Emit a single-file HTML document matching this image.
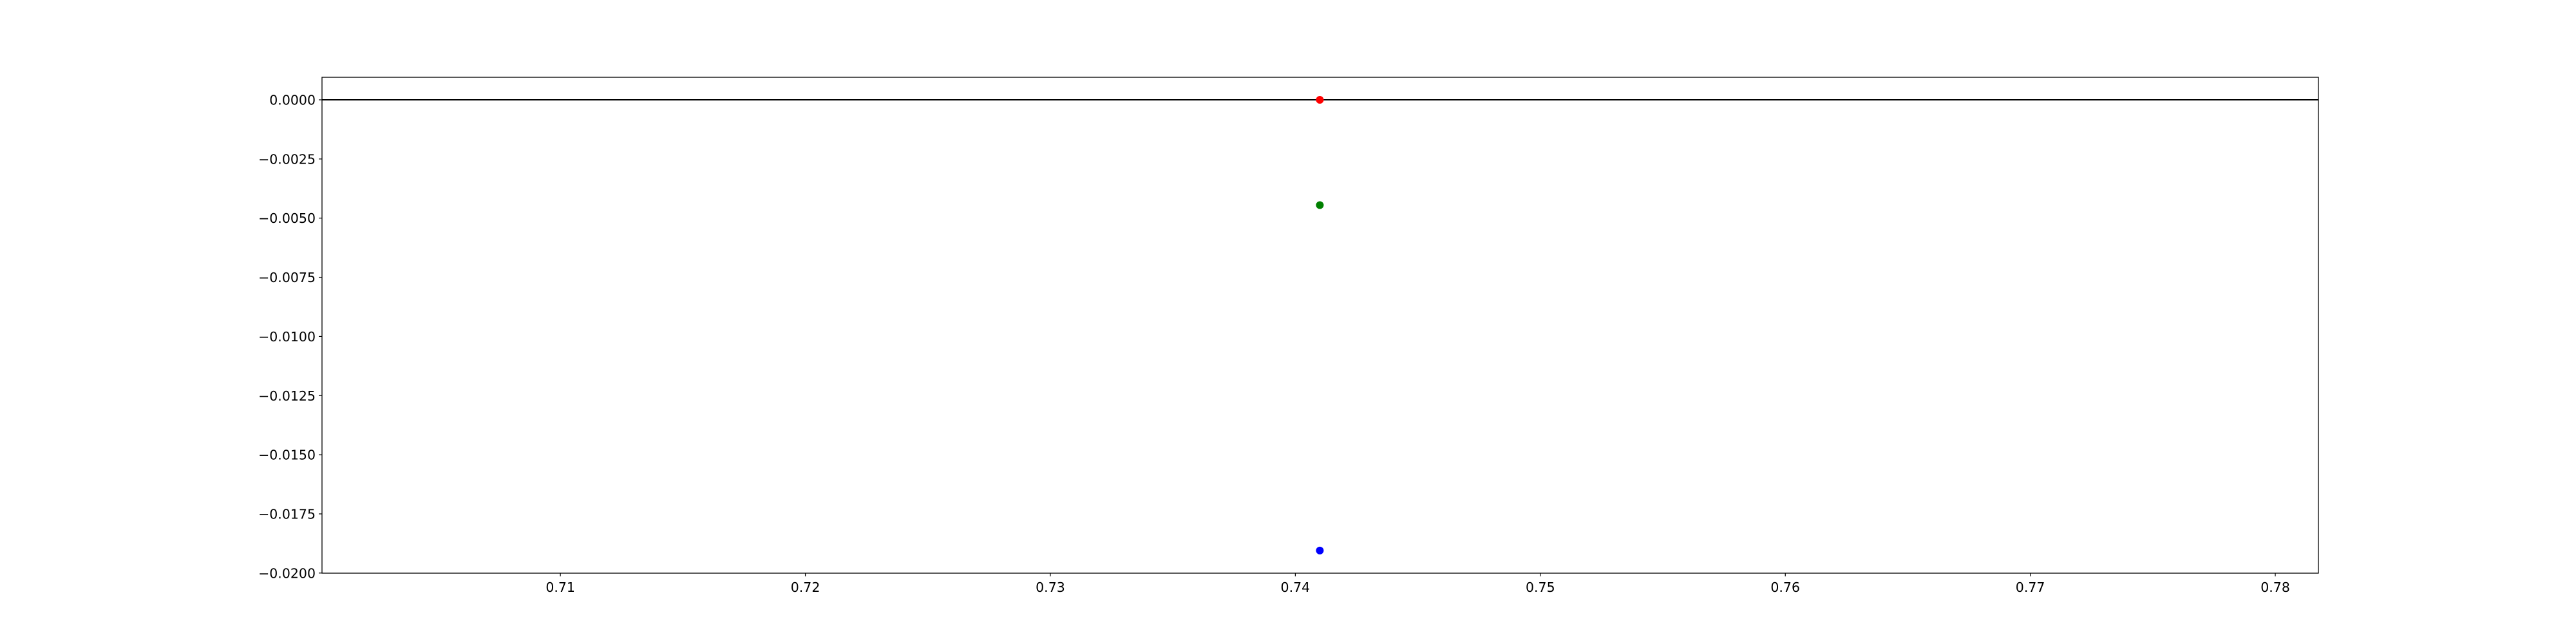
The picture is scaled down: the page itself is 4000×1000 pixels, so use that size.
<!DOCTYPE html>
<html><head><meta charset="utf-8"><style>
html,body{margin:0;padding:0;background:#fff;}
svg{display:block;font-family:"DejaVu Sans","Liberation Sans",sans-serif;}
</style></head><body>
<svg id="chart" width="4000" height="1000" xmlns="http://www.w3.org/2000/svg">
<rect width="4000" height="1000" fill="#fff"/>
</svg>
<script>
const xTicks = [0.71,0.72,0.73,0.74,0.75,0.76,0.77,0.78];
const yTicks = [0,-0.0025,-0.005,-0.0075,-0.01,-0.0125,-0.015,-0.0175,-0.02];
const yTickLabels = ["0.0000","−0.0025","−0.0050","−0.0075","−0.0100","−0.0125","−0.0150","−0.0175","−0.0200"];
const pointX = [0.741,0.741,0.741];
const pointY = [0,-0.00445,-0.01905];
const pointColors = ["#ff0000","#008000","#0000ff"];
const pointNames = ["red-point","green-point","blue-point"];
const hLineY = [0];

const L=500,R=3600,T=120,B=890;
const xMin=0.70027,xMax=0.78176,yMin=-0.020005,yMax=0.000953;
const sx=v=>L+(v-xMin)/(xMax-xMin)*(R-L);
const sy=v=>B-(v-yMin)/(yMax-yMin)*(B-T);
const svg=document.getElementById('chart');
const NS='http://www.w3.org/2000/svg';
function mk(tag,attrs){const e=document.createElementNS(NS,tag);for(const k in attrs)e.setAttribute(k,attrs[k]);svg.appendChild(e);return e;}

hLineY.forEach(v=>{
  const l=mk('line',{x1:L,x2:R,y1:sy(v),y2:sy(v),stroke:'#000','stroke-width':2});
  
  
});
pointX.forEach((x,i)=>{
  const c=mk('circle',{cx:sx(x),cy:sy(pointY[i]),r:6,fill:pointColors[i]});
  
  
});
const frame=mk('rect',{x:L,y:T,width:R-L,height:B-T,fill:'none',stroke:'#000','stroke-width':1.3});



xTicks.forEach(v=>{
  const x=sx(v);
  const t=mk('line',{x1:x,x2:x,y1:B,y2:B+5,stroke:'#000','stroke-width':1.2});
  
  
  const tx=mk('text',{x:x,y:B+29,'font-size':20.5,'text-anchor':'middle',fill:'#000'});
  tx.textContent=v.toFixed(2);
  
  
});
yTicks.forEach((v,i)=>{
  const y=sy(v);
  const t=mk('line',{x1:L-5,x2:L,y1:y,y2:y,stroke:'#000','stroke-width':1.2});
  
  
  const tx=mk('text',{x:L-10,y:y+7.5,'font-size':20.5,'text-anchor':'end',fill:'#000'});
  tx.textContent=yTickLabels[i];
  
  
});
</script>
</body></html>
